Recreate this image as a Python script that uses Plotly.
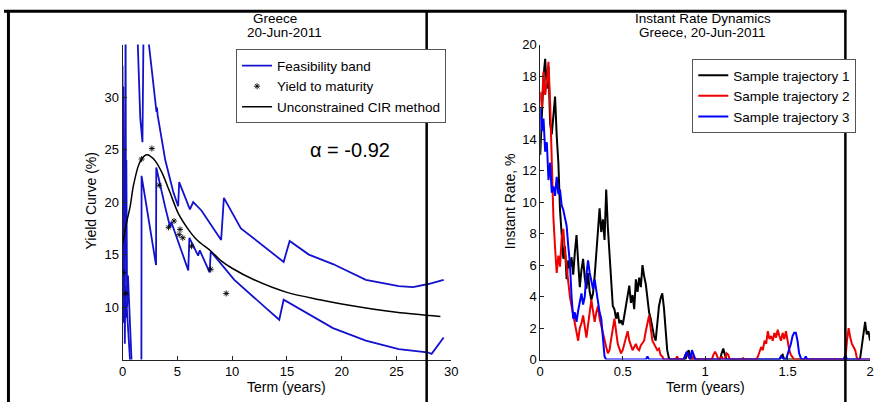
import numpy as np
import plotly.graph_objects as go

W, H = 882, 410

# ---------------- Left panel data (Greece, 20-Jun-2011) ----------------
cir_t = [0, 0.15, 0.4, 0.7, 0.9, 1.0, 1.5, 2.0, 2.25, 2.5, 3.0, 3.6, 4.3, 5.1, 6.0, 6.6, 7.0, 8.1, 9.0, 10, 12, 15, 18, 20, 25, 29]
cir_y = [16.0, 16.8, 18.2, 19.6, 21.0, 21.6, 23.6, 24.4, 24.5, 24.4, 23.9, 22.8, 21.0, 18.9, 17.4, 16.6, 16.2, 15.3, 14.4, 13.7, 12.6, 11.4, 10.7, 10.3, 9.5, 9.1]

ytm_t = [0.05, 0.3, 1.74, 2.68, 3.35, 4.2, 4.7, 5.17, 5.25, 5.5, 6.3, 8.05, 9.46]
ytm_y = [13.3, 11.3, 24.1, 25.1, 21.6, 17.6, 18.2, 16.9, 17.4, 16.6, 15.8, 13.6, 11.3]

band_up_t = [0.0, 0.03, 0.07, 0.11, 0.16, 0.22, 0.28, 0.31, 0.35, 0.42, 0.5, 0.9, None,
             1.3, 1.62, 1.82, 1.86, 1.95, None,
             2.25, 3.0, 3.1, 3.15, 3.2, 3.9, 4.65, 5.08, 5.17, 6.15, 6.45, 7.2, 8.1, 8.7, 9.0, 9.25,
             10.8, 14.7, 15.25, 17.0, 19.2, 22.2, 25.2, 26.5, 27.9, 29.3]
band_up_y = [33.0, 19.0, 31.0, 14.0, 23.0, 12.0, 38.0, 21.0, 24.0, 10.0, 13.0, 3.0, None,
             38.0, 28.0, 25.7, 33.0, 40.0, None,
             36.5, 29.4, 28.6, 29.0, 28.3, 24.0, 20.9, 19.6, 21.9, 19.3, 20.0, 19.2, 17.8, 16.9, 16.4, 20.4,
             17.5, 14.3, 16.3, 15.0, 14.1, 12.6, 12.0, 11.9, 12.2, 12.6]

band_lo_t = [0.0, 0.04, 0.08, 0.12, 0.17, 0.21, 0.26, 0.3, 0.36, 0.8, None,
             1.72, 1.74, 3.06, 3.08, 3.9, 4.35, 4.45, 6.0, 6.1, 6.9, 7.05, 7.95, 8.05,
             10.2, 13.2, 14.3, 14.7, 16.2, 19.2, 22.2, 25.2, 27.8, 28.2, 29.3]
band_lo_y = [16.0, 9.0, 20.0, 8.5, 16.5, 6.5, 12.0, 9.0, 10.5, 3.0, None,
             0.0, 22.5, 14.0, 23.3, 19.5, 17.6, 18.1, 13.5, 16.6, 14.9, 15.4, 13.3, 15.3,
             12.6, 9.8, 8.8, 10.7, 9.8, 8.0, 6.8, 6.0, 5.7, 5.55, 7.1]

left_xticks = [0, 5, 10, 15, 20, 25, 30]
left_yticks = [10, 15, 20, 25, 30]

# ---------------- Right panel data (Instant Rate Dynamics) ----------------
traj_t = np.round(np.arange(0, 201) * 0.01, 2)

traj1 = [
    13.0, 15.5, 18.0, 19.1, 17.2, 18.6, 15.0, 14.3, 15.8, 16.7,
    14.2, 12.5, 9.5, 8.0, 6.4, 7.2, 5.1, 6.3, 5.8, 6.5,
    5.4, 6.8, 7.9, 6.2, 4.6, 5.7, 6.4, 5.2, 4.5, 5.5,
    4.3, 3.8, 4.2, 5.3, 6.8, 8.0, 9.6, 8.1, 8.9, 7.6,
    10.8, 8.4, 6.5, 5.0, 3.4, 3.2, 2.6, 3.0, 2.3, 2.5,
    2.2, 2.8, 3.4, 4.2, 4.7, 3.6, 4.1, 3.2, 5.1, 4.3,
    5.2, 4.6, 6.0, 5.3, 4.8, 3.9, 3.0, 2.6, 1.9, 1.5,
    1.2, 2.3, 3.4, 3.9, 4.2, 3.3, 2.2, 0.6, 0.1, 0,
    0, 0, 0, 0, 0, 0, 0, 0, 0, 0.3,
    0.6, 0.2, 0, 0, 0, 0, 0, 0, 0, 0,
    0, 0, 0, 0, 0, 0, 0, 0, 0, 0,
    0.4, 0.7, 0.3, 0, 0, 0, 0, 0, 0, 0,
    0, 0, 0, 0, 0, 0, 0, 0, 0, 0,
    0, 0, 0, 0, 0, 0, 0, 0, 0, 0,
    0, 0, 0, 0, 0, 0, 0.2, 0.3, 0, 0,
    0, 0, 0, 0, 0, 0, 0, 0, 0, 0,
    0, 0, 0, 0, 0, 0, 0, 0, 0, 0,
    0, 0, 0, 0, 0, 0, 0, 0, 0, 0,
    0, 0, 0, 0, 0, 0, 0, 0, 0, 0,
    0, 0, 0, 0, 0.1, 0.9, 1.8, 2.4, 1.6, 1.8,
    1.2]

traj2 = [
    17.0, 16.0, 18.3, 16.8, 17.6, 18.9, 16.3, 12.6, 9.0, 7.1,
    5.5, 6.6, 5.9, 7.7, 8.3, 6.8, 5.7, 4.8, 4.0, 3.4,
    2.8, 2.2, 1.8, 1.2, 2.0, 2.3, 2.8, 1.9, 1.4, 2.2,
    3.0, 3.8, 3.1, 2.4, 3.0, 3.4, 2.6, 2.1, 1.6, 1.1,
    0.8, 0.4, 0.6, 1.3, 2.0, 2.6, 1.8, 1.0, 0.7, 0.4,
    0.6, 1.0, 1.4, 1.8, 1.2, 0.9, 0.6, 0.8, 1.0, 0.7,
    0.6, 0.9, 1.1, 1.2, 1.8, 2.4, 2.8, 2.0, 1.2, 1.0,
    0.8, 0.6, 0.7, 0.3, 0.2, 0, 0, 0, 0, 0,
    0, 0, 0, 0.2, 0, 0, 0, 0, 0.3, 0.5,
    0.2, 0, 0, 0.3, 0, 0, 0, 0, 0, 0,
    0, 0, 0, 0, 0, 0.3, 0.5, 0.3, 0, 0,
    0.2, 0, 0, 0.4, 0.3, 0, 0, 0, 0, 0,
    0, 0, 0, 0.1, 0, 0, 0, 0, 0, 0,
    0, 0, 0.2, 0.5, 0.8, 0.6, 1.2, 1.0, 1.8, 1.3,
    1.5, 1.2, 1.7, 1.4, 1.9, 1.5, 1.2, 1.7, 1.3, 1.8,
    1.1, 0.6, 0.3, 0.1, 0, 0, 0, 0, 0, 0,
    0, 0, 0, 0, 0, 0, 0, 0, 0, 0,
    0, 0, 0, 0, 0, 0, 0, 0, 0, 0,
    0, 0, 0, 0, 0, 0, 1.2, 2.0, 1.4, 1.0,
    0.8, 0.6, 0.1, 0, 0, 0, 0, 0, 0, 0,
    0]

traj3 = [
    16.0, 14.5, 15.3, 13.2, 13.8, 11.4, 12.5, 10.6, 11.0, 10.4,
    11.6, 10.5, 10.8, 9.8, 9.5, 8.9, 8.5, 7.2, 6.1, 4.0,
    2.6, 3.0, 2.4, 3.1, 3.6, 4.2, 3.5, 4.0, 5.4, 6.3,
    5.5, 4.9, 4.5, 5.1, 4.3, 3.8, 3.0, 2.6, 1.6, 0.2,
    0, 0, 0, 0, 0, 0, 0, 0, 0, 0,
    0, 0, 0, 0, 0, 0, 0, 0, 0, 0,
    0, 0, 0, 0, 0, 0.2, 0, 0, 0, 0,
    0, 0, 0, 0, 0, 0, 0, 0, 0, 0,
    0, 0, 0, 0, 0, 0, 0, 0, 0.3, 0.5,
    0.2, 0, 0.6, 0.3, 0, 0, 0, 0, 0, 0,
    0, 0, 0, 0, 0, 0, 0, 0, 0, 0,
    0, 0, 0, 0, 0, 0, 0, 0, 0, 0,
    0, 0, 0, 0, 0, 0, 0, 0, 0, 0,
    0, 0, 0, 0, 0, 0, 0, 0, 0, 0,
    0, 0, 0, 0, 0, 0, 0.2, 0.1, 0, 0,
    0.3, 0.6, 1.0, 1.5, 1.7, 1.7, 1.2, 0.4, 0.1, 0,
    0, 0.2, 0, 0, 0, 0, 0, 0, 0, 0,
    0, 0, 0, 0, 0, 0, 0, 0, 0, 0,
    0, 0, 0, 0, 0, 0.3, 0, 0, 0, 0,
    0, 0, 0, 0, 0, 0, 0, 0, 0, 0,
    0]

right_xticks = [0, 0.5, 1, 1.5, 2]
right_xticklabels = ["0", "0.5", "1", "1.5", "2"]
right_yticks = [0, 2, 4, 6, 8, 10, 12, 14, 16, 18, 20]

# ---------------- Figure ----------------
FONT = "Liberation Sans, Arial, sans-serif"
BAND = "#1212cc"


def px(x):
    return x / W


def py(y):
    return 1 - y / H


fig = go.Figure()

fig.add_trace(go.Scatter(x=band_up_t, y=band_up_y, mode="lines", name="Feasibility band",
                         line=dict(color=BAND, width=1.8), connectgaps=False,
                         xaxis="x", yaxis="y", legend="legend"))
fig.add_trace(go.Scatter(x=band_lo_t, y=band_lo_y, mode="lines", name="Feasibility band",
                         line=dict(color=BAND, width=1.8), connectgaps=False, showlegend=False,
                         xaxis="x", yaxis="y", legend="legend"))
fig.add_trace(go.Scatter(x=ytm_t, y=ytm_y, mode="markers", name="Yield to maturity",
                         marker=dict(symbol="asterisk-open", size=5, color="black",
                                     line=dict(color="black", width=0.9)),
                         xaxis="x", yaxis="y", legend="legend"))
fig.add_trace(go.Scatter(x=cir_t, y=cir_y, mode="lines", name="Unconstrained CIR method",
                         line=dict(color="black", width=1.5, shape="spline", smoothing=0.8),
                         xaxis="x", yaxis="y", legend="legend"))

for name, vals, col in [("Sample trajectory 1", traj1, "black"),
                        ("Sample trajectory 2", traj2, "#ee0000"),
                        ("Sample trajectory 3", traj3, "#0000ff")]:
    fig.add_trace(go.Scatter(x=traj_t, y=vals, mode="lines", name=name,
                             line=dict(color=col, width=2),
                             xaxis="x2", yaxis="y2", legend="legend2"))

axis_common = dict(showline=True, linecolor="#222222", linewidth=1, mirror=False,
                   ticks="inside", ticklen=4, tickcolor="#222222", showgrid=False,
                   zeroline=False, tickfont=dict(family=FONT, size=13, color="black"))

fig.update_layout(
    width=W, height=H,
    margin=dict(l=0, r=0, t=0, b=0),
    paper_bgcolor="white", plot_bgcolor="white",
    font=dict(family=FONT, size=14, color="black"),
    xaxis=dict(domain=[px(120), px(453)], range=[0, 30], tickvals=left_xticks,
               anchor="y", **axis_common),
    yaxis=dict(domain=[py(366), py(39)], range=[5, 35], tickvals=left_yticks,
               anchor="x", **axis_common),
    xaxis2=dict(domain=[px(543), px(877)], range=[0, 2], tickvals=right_xticks,
                ticktext=right_xticklabels, anchor="y2", **axis_common),
    yaxis2=dict(domain=[py(366), py(39)], range=[0, 20], tickvals=right_yticks,
                anchor="x2", **axis_common),
    legend=dict(x=px(235), y=py(44), xanchor="left", yanchor="top",
                bgcolor="white", bordercolor="#555555", borderwidth=1,
                font=dict(family=FONT, size=13.5, color="black"),
                tracegroupgap=0, itemwidth=30),
    legend2=dict(x=px(697), y=py(54), xanchor="left", yanchor="top",
                 bgcolor="white", bordercolor="#555555", borderwidth=1,
                 font=dict(family=FONT, size=13.5, color="black"),
                 tracegroupgap=0, itemwidth=30),
    showlegend=True,
)

annos = [
    ("Greece", 274, 11.5, 0, 13.5),
    ("20-Jun-2011", 284, 26.5, 0, 13.5),
    ("Instant Rate Dynamics", 708, 11.5, 0, 13.5),
    ("Greece, 20-Jun-2011", 707, 26.5, 0, 13.5),
    ("Term (years)", 286, 394, 0, 14),
    ("Term (years)", 710, 394, 0, 14),
    ("Yield Curve (%)", 88, 201, -90, 14),
    ("Instant Rate, %", 512, 202, -90, 14),
    ("\u03b1 = -0.92", 350, 148, 0, 20),
]
for text, x, y, ang, size in annos:
    fig.add_annotation(text=text, x=px(x), y=py(y), xref="paper", yref="paper",
                       xanchor="center", yanchor="middle", showarrow=False, textangle=ang,
                       font=dict(family=FONT, size=size, color="black"))

# page frame lines around the two panels
frame = [
    (0, 4.5, 853, 4.5, 3),
    (4.5, 3, 4.5, 410, 3),
    (428, 3, 428, 410, 2.5),
    (852, 3, 852, 410, 2.5),
]
for x0, y0, x1, y1, w in frame:
    fig.add_shape(type="line", xref="paper", yref="paper",
                  x0=px(x0), y0=py(y0), x1=px(x1), y1=py(y1),
                  line=dict(color="black", width=w), layer="above")

fig.write_html(
    "out.html", config={"displayModeBar": False},
    post_script=("document.documentElement.style.margin='0';"
                 "document.documentElement.style.overflow='hidden';"
                 "document.body.style.margin='0';document.body.style.padding='0';"
                 "document.body.style.overflow='hidden';"))
